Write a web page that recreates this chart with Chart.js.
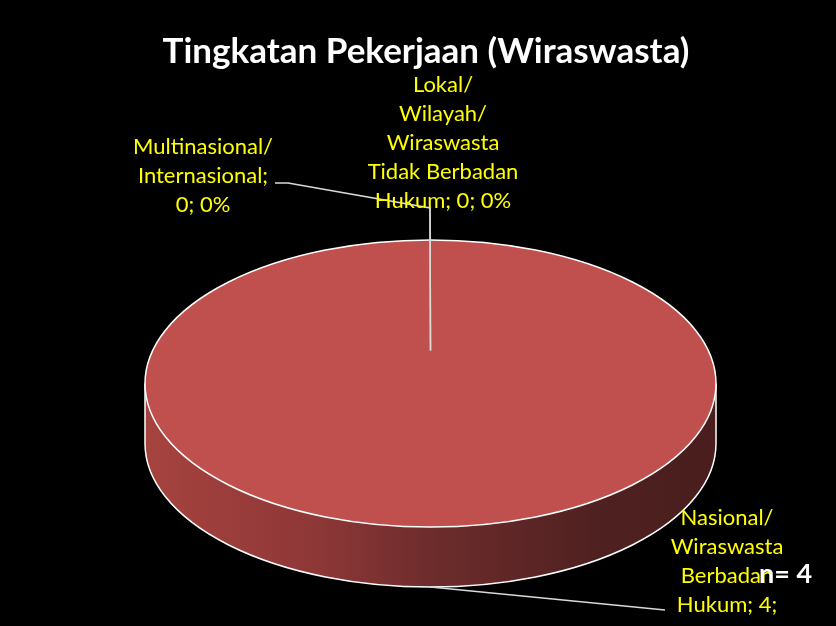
<!DOCTYPE html>
<html>
<head>
<meta charset="utf-8">
<title>Tingkatan Pekerjaan (Wiraswasta)</title>
<script src="https://cdn.jsdelivr.net/npm/chart.js@4.4.1/dist/chart.umd.min.js"></script>
<style>
    html, body { margin: 0; padding: 0; background: #000; }
    canvas { display: block; }
</style>
</head>
<body>
<canvas id="pieChart" width="836" height="626"></canvas>
<script>
// Data
const chartTitle = 'Tingkatan Pekerjaan (Wiraswasta)';
const categories = [
    'Multinasional/\nInternasional',
    'Lokal/\nWilayah/\nWiraswasta\nTidak Berbadan\nHukum',
    'Nasional/\nWiraswasta\nBerbadan\nHukum'
];
const counts = [0, 0, 4];
const sliceColors = ['#4f81bd', '#9bbb59', '#c0504d'];

// Where each data label sits and how its leader line runs
const labelSpots = [
    { x: 203, y: 154, wrap: 140, path: [[275, 183], [288, 183], [430, 208]], anchor: 'top' },
    { x: 443, y: 92, wrap: 165, path: [[430, 208]], anchor: 'top' },
    { x: 727, y: 525, wrap: 130, path: [[665, 610]], anchor: 'bottom' }
];

const total = counts.reduce((a, b) => a + b, 0);
const labelFont = '22px Lato';
const lineStep = 29;

function labelLines(ctx, i) {
    const parts = categories[i].split('\n');
    const pct = total ? Math.round(counts[i] / total * 100) : 0;
    const last = parts.pop() + '; ' + counts[i] + '; ' + pct + '%';
    const words = last.split(' ');
    let line = '';
    words.forEach(function (w) {
        const test = line ? line + ' ' + w : w;
        if (line && ctx.measureText(test).width > labelSpots[i].wrap) {
            parts.push(line);
            line = w;
        } else {
            line = test;
        }
    });
    parts.push(line);
    return parts;
}

// Fake 3D: flatten the pie into an ellipse and give it a side wall
const pie3d = {
    id: 'pie3d',
    geometry(chart) {
        const arc = chart.getDatasetMeta(0).data[0];
        const opts = chart.options.plugins.pie3d;
        const rx = arc.outerRadius;
        return { cx: arc.x, cy: opts.centerY, y0: arc.y, rx: rx, ry: rx * opts.tilt, depth: opts.depth };
    },
    beforeDatasetsDraw(chart) {
        const ctx = chart.ctx;
        const g = this.geometry(chart);

        const grad = ctx.createLinearGradient(g.cx - g.rx, 0, g.cx + g.rx, 0);
        grad.addColorStop(0, '#a6433f');
        grad.addColorStop(0.3, '#8e3737');
        grad.addColorStop(0.5, '#6e2c2c');
        grad.addColorStop(0.8, '#4f2020');
        grad.addColorStop(1, '#4a1e1e');

        ctx.save();
        ctx.beginPath();
        ctx.moveTo(g.cx + g.rx, g.cy);
        ctx.ellipse(g.cx, g.cy, g.rx, g.ry, 0, 0, Math.PI, false);
        ctx.lineTo(g.cx - g.rx, g.cy + g.depth);
        ctx.ellipse(g.cx, g.cy + g.depth, g.rx, g.ry, 0, Math.PI, 0, true);
        ctx.closePath();
        ctx.fillStyle = grad;
        ctx.fill();

        ctx.beginPath();
        ctx.moveTo(g.cx - g.rx, g.cy);
        ctx.lineTo(g.cx - g.rx, g.cy + g.depth);
        ctx.ellipse(g.cx, g.cy + g.depth, g.rx, g.ry, 0, Math.PI, 0, true);
        ctx.lineTo(g.cx + g.rx, g.cy);
        ctx.strokeStyle = '#ffffff';
        ctx.lineWidth = 1.5;
        ctx.stroke();
        ctx.restore();

        // squash the real pie slices into the top face
        ctx.save();
        ctx.translate(g.cx, g.cy);
        ctx.scale(1, g.ry / g.rx);
        ctx.translate(-g.cx, -g.y0);
    },
    afterDatasetsDraw(chart) {
        const ctx = chart.ctx;
        ctx.restore();
        const g = this.geometry(chart);

        ctx.save();
        ctx.beginPath();
        ctx.ellipse(g.cx, g.cy, g.rx, g.ry, 0, 0, Math.PI * 2);
        ctx.strokeStyle = '#ffffff';
        ctx.lineWidth = 1.5;
        ctx.stroke();

        // leader lines
        ctx.strokeStyle = '#d9d9d9';
        ctx.lineWidth = 1.5;
        labelSpots.forEach(function (s) {
            const ay = s.anchor === 'top' ? g.cy - g.ry * 0.23 : g.cy + g.ry + g.depth;
            ctx.beginPath();
            ctx.moveTo(s.path[0][0], s.path[0][1]);
            s.path.slice(1).forEach(p => ctx.lineTo(p[0], p[1]));
            ctx.lineTo(g.cx, ay);
            ctx.stroke();
        });

        // data labels
        ctx.font = labelFont;
        ctx.fillStyle = '#ffff00';
        ctx.textAlign = 'center';
        ctx.textBaseline = 'alphabetic';
        labelSpots.forEach(function (s, i) {
            labelLines(ctx, i).forEach(function (t, k) {
                ctx.fillText(t, s.x, s.y + k * lineStep);
            });
        });

        // title
        ctx.font = 'bold 35px Lato';
        ctx.fillStyle = '#ffffff';
        ctx.fillText(chartTitle, 426, 63);

        // sample size
        ctx.font = 'bold 27px Lato';
        ctx.textAlign = 'left';
        ctx.fillText('n= ' + total, 759, 583);
        ctx.restore();
    }
};

new Chart(document.getElementById('pieChart'), {
    type: 'pie',
    data: {
        labels: categories,
        datasets: [{
            data: counts,
            backgroundColor: sliceColors,
            borderWidth: 0,
            offset: 0,
            hoverOffset: 0,
            clip: false
        }]
    },
    options: {
        responsive: false,
        animation: false,
        layout: {
            padding: { left: 145, right: 120, top: 0, bottom: 0 }
        },
        plugins: {
            legend: { display: false },
            title: { display: false },
            tooltip: { enabled: false },
            pie3d: { centerY: 383.5, tilt: 0.5026, depth: 60 }
        }
    },
    plugins: [pie3d]
});
</script>
</body>
</html>
